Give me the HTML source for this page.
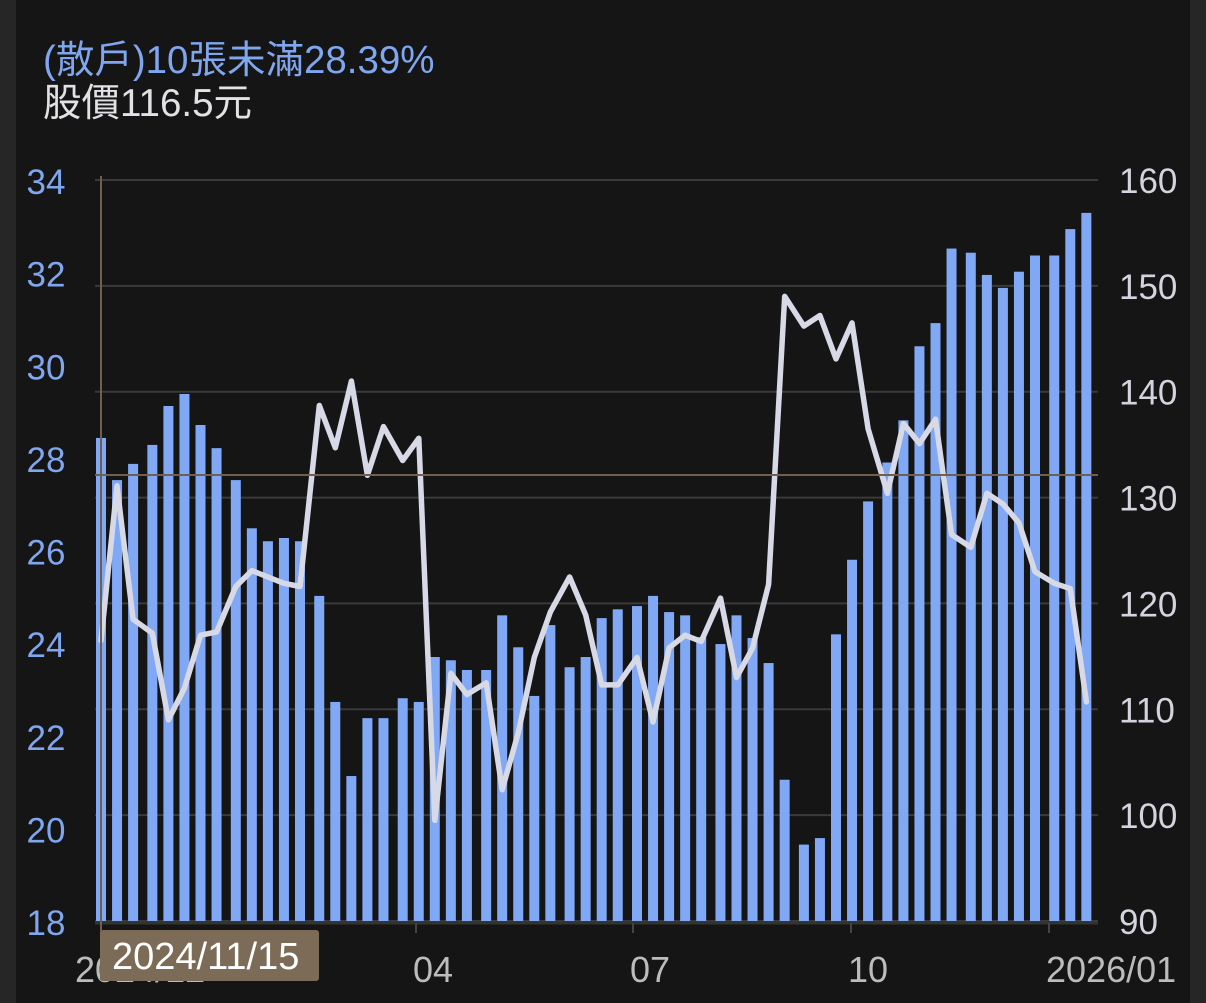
<!DOCTYPE html>
<html><head><meta charset="utf-8"><style>
html,body{margin:0;padding:0;background:#151515;}
#wrap{position:relative;width:1206px;height:1003px;background:#151515;overflow:hidden;font-family:"Liberation Sans","Noto Sans CJK TC",sans-serif;}
.strip{position:absolute;top:0;height:1003px;background:#262626;}
.hdr{position:absolute;left:43px;font-size:38.5px;white-space:nowrap;line-height:1;}
</style></head><body>
<div id="wrap">
<div class="strip" style="left:0;width:16px"></div>
<div class="strip" style="left:1190px;width:16px"></div>
<div class="hdr" style="top:42px;color:#7fa6ef">(散戶)10張未滿28.39%</div>
<div class="hdr" style="top:85px;color:#e2e2e6">股價116.5元</div>
<svg id="chart" width="1206" height="1003" style="position:absolute;left:0;top:0"></svg>
</div>
<script>
const groupSizes=[3,5,5,5,5,5,4,5,5,5,5,5,3];
const holderPct=[28.43,27.52,27.87,28.28,29.12,29.38,28.71,28.21,27.52,26.48,26.20,26.27,26.20,25.02,22.73,21.13,22.38,22.38,22.81,22.73,
23.70,23.63,23.42,23.42,24.60,23.91,22.86,24.39,23.48,23.70,24.54,24.73,24.80,25.02,24.67,24.60,24.13,23.98,24.60,24.11,
23.57,21.05,19.65,19.79,24.19,25.80,27.06,27.90,28.81,30.41,30.91,32.52,32.43,31.95,31.67,32.02,32.37,32.37,32.94,33.29];
const price=[116.5,131.1,118.5,117.2,109.0,112.0,117.0,117.3,121.6,123.1,122.5,121.9,121.6,138.7,134.7,141.0,132.1,136.7,133.5,135.6,
99.5,113.4,111.4,112.5,102.4,107.8,114.9,119.2,122.5,118.9,112.3,112.3,114.9,108.8,115.8,117.0,116.4,120.5,113.0,115.8,
121.8,149.0,146.2,147.2,143.1,146.5,136.5,130.4,137.0,135.1,137.4,126.5,125.3,130.4,129.4,127.6,123.0,121.9,121.4,110.7];
const leftTicks=[34,32,30,28,26,24,22,20,18];
const rightTicks=[160,150,140,130,120,110,100,90];
const xLabels=[{i:20,t:"04",tx:413},{i:34,t:"07",tx:630},{i:49,t:"10",tx:848},{i:59,t:"2026/01",tx:1046}];
const tooltipDate="2024/11/15";

const NS="http://www.w3.org/2000/svg";
const svg=document.getElementById('chart');
const top0=180,bot=921,x0=95,x1=1098;
function yL(v){return top0+(34-v)/(34-18)*(bot-top0);}
function yR(v){return top0+(160-v)/(160-90)*(bot-top0);}
const grp=[];groupSizes.forEach((n,g)=>{for(let k=0;k<n;k++)grp.push(g);});
function xI(i){return 101+i*16.05+grp[i]*3.2;}
function mk(tag,attrs,parent){const e=document.createElementNS(NS,tag);for(const k in attrs)e.setAttribute(k,attrs[k]);(parent||svg).appendChild(e);return e;}

rightTicks.forEach(v=>{
  const l=mk('line',{x1:x0,x2:x1,y1:yR(v),y2:yR(v),stroke:'#3a3a3a','stroke-width':2});
  
  
  const t=mk('text',{x:1119,y:yR(v)+13,fill:'#d4d4de','font-size':35,'font-family':'Liberation Sans'});
  t.textContent=v;
  
  
});
leftTicks.forEach(v=>{
  const t=mk('text',{x:46,y:yL(v)+14,fill:'#7fa6ef','font-size':35,'text-anchor':'middle','font-family':'Liberation Sans'});
  t.textContent=v;
  
  
});
holderPct.forEach((v,i)=>{
  const r=mk('rect',{x:xI(i)-5,y:yL(v),width:10,height:bot-yL(v),fill:'#80a8f5'});
  
  
});
const pts=price.map((p,i)=>xI(i).toFixed(1)+','+yR(p).toFixed(1)).join(' ');
const pl=mk('polyline',{points:pts,fill:'none',stroke:'#d8d9e6','stroke-width':5.5,'stroke-linejoin':'round','stroke-linecap':'round'});


const ax=mk('line',{x1:x0,x2:x1,y1:bot+2,y2:bot+2,stroke:'#333','stroke-width':3});


xLabels.forEach(d=>{
  const tk=mk('line',{x1:d.tx+3,x2:d.tx+3,y1:bot+2,y2:bot+12,stroke:'#444','stroke-width':2});
  
  
  const t=mk('text',{x:d.tx,y:982,fill:'#bcbcbc','font-size':36,'font-family':'Liberation Sans'});
  t.textContent=d.t;
  
  
});
const fl=mk('text',{x:75,y:982,fill:'#bcbcbc','font-size':36,'font-family':'Liberation Sans'});
fl.textContent='2024/12';


const ch=mk('line',{x1:101,x2:101,y1:176,y2:980,stroke:'#6e6050','stroke-width':2});


const chh=mk('line',{x1:x0,x2:x1,y1:475,y2:475,stroke:'#6e6050','stroke-width':2});


const tb=mk('rect',{x:100,y:930,width:219,height:51,rx:3,fill:'#7c6b56'});


const tt=mk('text',{x:112,y:969,fill:'#ffffff','font-size':38,'font-family':'Liberation Sans'});
tt.textContent=tooltipDate;


</script>
</body></html>
